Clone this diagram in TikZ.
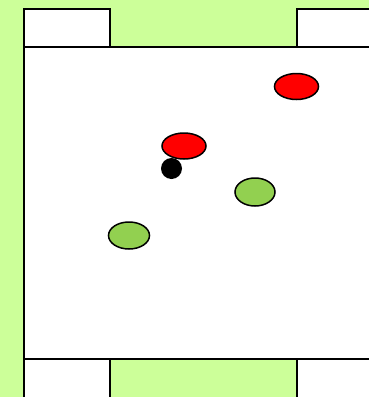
\documentclass[tikz,border=0pt]{standalone}
\usetikzlibrary{shapes.geometric}
\definecolor{bg}{HTML}{CCFF99}
\definecolor{pgreen}{HTML}{92D050}
\begin{document}
\begin{tikzpicture}[x=1pt,y=-1pt,
  line/.style={draw=black,line width=2pt},
  box/.style={line,fill=white},
  redp/.style={ellipse,draw=black,line width=1.5pt,fill=red,inner sep=0pt},
  greenp/.style={ellipse,draw=black,line width=1.5pt,fill=pgreen,inner sep=0pt},
  ballp/.style={circle,fill=black,inner sep=0pt,minimum size=21pt}]
\useasboundingbox (0,0) rectangle (369,397);
\fill[bg] (0,0) rectangle (369,397);
\draw[box] (24,47) rectangle (380,359);
\draw[box] (24,9) rectangle (110,47);
\draw[box] (297,9) rectangle (380,47);
\draw[box] (24,359) rectangle (110,410);
\draw[box] (297,359) rectangle (380,410);
\node[ballp] (ball) at (171.5,168.5) {};
\node[redp,minimum width=44pt,minimum height=26pt] (r1) at (296.5,86.5) {};
\node[redp,minimum width=44pt,minimum height=26pt] (r2) at (184,146) {};
\node[greenp,minimum width=40pt,minimum height=28pt] (g1) at (255,192) {};
\node[greenp,minimum width=41pt,minimum height=27pt] (g2) at (129,235.5) {};
\end{tikzpicture}
\end{document}
